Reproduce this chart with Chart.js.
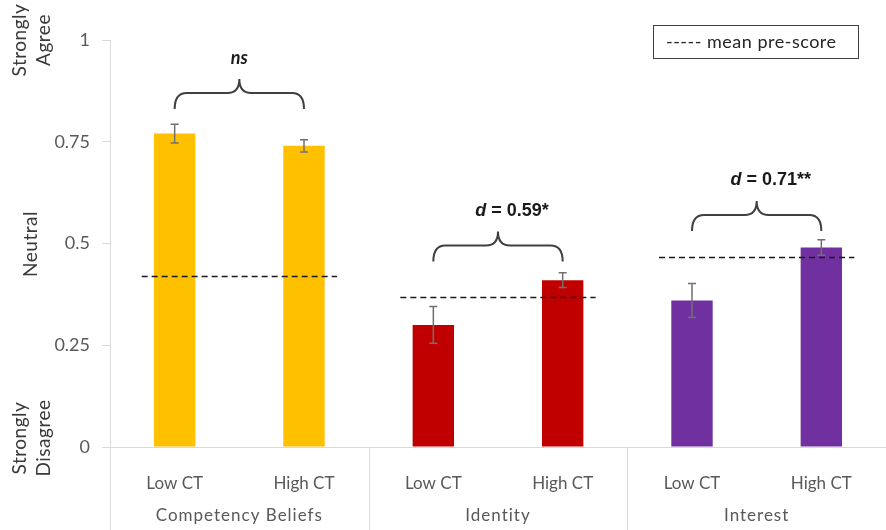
<!DOCTYPE html>
<html>
<head>
<meta charset="utf-8">
<script src="https://cdn.jsdelivr.net/npm/chart.js@4"></script>
<style>
  body { margin: 0; background: #fff; }
</style>
</head>
<body>
<canvas id="grafico" width="886" height="530"></canvas>
<script>
// datos
const grupos = ['Competency Beliefs', 'Identity', 'Interest'];
const niveles = ['Low CT', 'High CT'];
const medias = [0.77, 0.74, 0.30, 0.41, 0.36, 0.49];
const errores = [0.023, 0.015, 0.045, 0.018, 0.042, 0.019];
const preScore = [0.42, 0.368, 0.467];
const llaveY = [0.87, 0.495, 0.57];
const llaveTexto = ['ns', '0.59*', '0.71**'];
const colores = ['#FFC000', '#C00000', '#7030A0'];
const yTicks = [0, 0.25, 0.5, 0.75, 1];

const etiquetas = [];
const coloresBarras = [];
grupos.forEach(function (g, i) {
    niveles.forEach(function (n) {
        etiquetas.push(n);
        coloresBarras.push(colores[i]);
    });
});

const fuente = 'Lato, "Open Sans", sans-serif';

function llave(ctx, x1, x2, yb) {
    const xm = (x1 + x2) / 2;
    const r = 12, h1 = 16, h2 = 14;
    ctx.beginPath();
    ctx.moveTo(x1, yb + h1);
    ctx.quadraticCurveTo(x1, yb, x1 + r, yb);
    ctx.lineTo(xm - r, yb);
    ctx.quadraticCurveTo(xm, yb, xm, yb - h2);
    ctx.quadraticCurveTo(xm, yb, xm + r, yb);
    ctx.lineTo(x2 - r, yb);
    ctx.quadraticCurveTo(x2, yb, x2, yb + h1);
    ctx.stroke();
}

const extras = {
    id: 'extras',
    afterDraw: function (chart) {
        const ctx = chart.ctx;
        const x = chart.scales.x;
        const y = chart.scales.y;
        const area = chart.chartArea;
        ctx.save();

        // ejes extendidos y separadores
        ctx.strokeStyle = '#d9d9d9';
        ctx.lineWidth = 1;
        ctx.beginPath();
        ctx.moveTo(area.left + 0.5, area.bottom);
        ctx.lineTo(area.left + 0.5, chart.height);
        const paso = (area.right - area.left) / grupos.length;
        for (let i = 1; i < grupos.length; i++) {
            const sx = Math.round(area.left + paso * i) + 0.5;
            ctx.moveTo(sx, area.bottom);
            ctx.lineTo(sx, chart.height);
        }
        ctx.stroke();

        // nombres de grupo
        ctx.fillStyle = '#595959';
        ctx.font = '17px ' + fuente;
        ctx.letterSpacing = '1px';
        ctx.textAlign = 'center';
        ctx.textBaseline = 'middle';
        grupos.forEach(function (g, i) {
            ctx.fillText(g, area.left + paso * (i + 0.5), 516);
        });

        // textos girados
        ctx.fillStyle = '#3a3a3a';
        ctx.font = '19px ' + fuente;
        ctx.letterSpacing = '0.5px';
        const girados = [
            [['Strongly', 'Agree'], 40],
            [['Neutral'], 244],
            [['Strongly', 'Disagree'], 438]
        ];
        girados.forEach(function (t) {
            ctx.save();
            ctx.translate(t[0].length === 1 ? 31 : 32, t[1]);
            ctx.rotate(-Math.PI / 2);
            t[0].forEach(function (linea, k) {
                const dy = t[0].length === 1 ? 0 : (k === 0 ? -12 : 12);
                ctx.fillText(linea, 0, dy);
            });
            ctx.restore();
        });
        ctx.letterSpacing = '0px';

        // barras de error
        ctx.strokeStyle = '#707070';
        ctx.lineWidth = 1.5;
        medias.forEach(function (m, i) {
            const cx = x.getPixelForValue(i);
            const yt = y.getPixelForValue(m + errores[i]);
            const yb = y.getPixelForValue(m - errores[i]);
            ctx.beginPath();
            ctx.moveTo(cx, yt);
            ctx.lineTo(cx, yb);
            ctx.moveTo(cx - 4, yt);
            ctx.lineTo(cx + 4, yt);
            ctx.moveTo(cx - 4, yb);
            ctx.lineTo(cx + 4, yb);
            ctx.stroke();
        });

        // lineas de pre-score
        ctx.strokeStyle = '#1a1a1a';
        ctx.lineWidth = 1.6;
        ctx.setLineDash([6, 4]);
        preScore.forEach(function (p, i) {
            const x1 = x.getPixelForValue(i * 2) - 33;
            const x2 = x.getPixelForValue(i * 2 + 1) + 33;
            const py = Math.round(y.getPixelForValue(p)) + 0.5;
            ctx.beginPath();
            ctx.moveTo(x1, py);
            ctx.lineTo(x2, py);
            ctx.stroke();
        });
        ctx.setLineDash([]);

        // llaves y textos
        ctx.strokeStyle = '#404040';
        ctx.lineWidth = 2;
        ctx.fillStyle = '#1a1a1a';
        llaveY.forEach(function (v, i) {
            const x1 = x.getPixelForValue(i * 2);
            const x2 = x.getPixelForValue(i * 2 + 1);
            const yb = y.getPixelForValue(v);
            llave(ctx, x1, x2, yb);
            const xm = (x1 + x2) / 2;
            const ty = yb - 35;
            if (i === 0) {
                ctx.font = 'italic bold 18px ' + fuente;
                ctx.textAlign = 'center';
                ctx.fillText(llaveTexto[i], xm, ty);
            } else {
                ctx.font = 'italic bold 18px "Liberation Sans", Arial, sans-serif';
                const wd = ctx.measureText('d').width;
                ctx.font = 'bold 18px "Liberation Sans", Arial, sans-serif';
                const resto = ' = ' + llaveTexto[i];
                const wr = ctx.measureText(resto).width;
                const inicio = xm + 14 - (wd + wr) / 2;
                ctx.textAlign = 'left';
                ctx.font = 'italic bold 18px "Liberation Sans", Arial, sans-serif';
                ctx.fillText('d', inicio, ty);
                ctx.font = 'bold 18px "Liberation Sans", Arial, sans-serif';
                ctx.fillText(resto, inicio + wd, ty);
            }
        });

        // leyenda
        ctx.strokeStyle = '#404040';
        ctx.lineWidth = 1;
        ctx.fillStyle = '#fff';
        ctx.fillRect(653.5, 25.5, 205, 33);
        ctx.strokeRect(653.5, 25.5, 205, 33);
        ctx.fillStyle = '#262626';
        ctx.font = '18px ' + fuente;
        ctx.letterSpacing = '0.5px';
        ctx.textAlign = 'left';
        ctx.textBaseline = 'middle';
        ctx.fillText('----- mean pre-score', 666, 42);
        ctx.letterSpacing = '0px';

        ctx.restore();
    }
};

let ctx1 = document.getElementById('grafico').getContext('2d');
let grafico = new Chart(ctx1, {
    type: 'bar',
    data: {
        labels: etiquetas,
        datasets: [{
            label: 'Score',
            data: medias,
            backgroundColor: coloresBarras,
            categoryPercentage: 1,
            barPercentage: 0.32
        }]
    },
    options: {
        responsive: false,
        animation: false,
        layout: { padding: { top: 40, right: 0, left: 0, bottom: 0 } },
        plugins: {
            legend: { display: false },
            tooltip: { enabled: false }
        },
        scales: {
            y: {
                min: 0,
                max: 1,
                afterBuildTicks: function (scale) {
                    scale.ticks = yTicks.map(function (v) { return { value: v }; });
                },
                afterFit: function (scale) { scale.width = 110; },
                ticks: {
                    color: '#595959',
                    font: { family: fuente, size: 18 },
                    padding: 12,
                    callback: function (v) { return String(v); }
                },
                grid: {
                    drawOnChartArea: false,
                    drawTicks: true,
                    tickLength: 8,
                    color: '#d9d9d9'
                },
                border: { color: '#d9d9d9' }
            },
            x: {
                afterFit: function (scale) { scale.height = 83; },
                ticks: {
                    color: '#595959',
                    font: { family: fuente, size: 17 },
                    padding: 18
                },
                grid: { display: false },
                border: { color: '#d9d9d9' }
            }
        }
    },
    plugins: [extras]
});
</script>
</body>
</html>
